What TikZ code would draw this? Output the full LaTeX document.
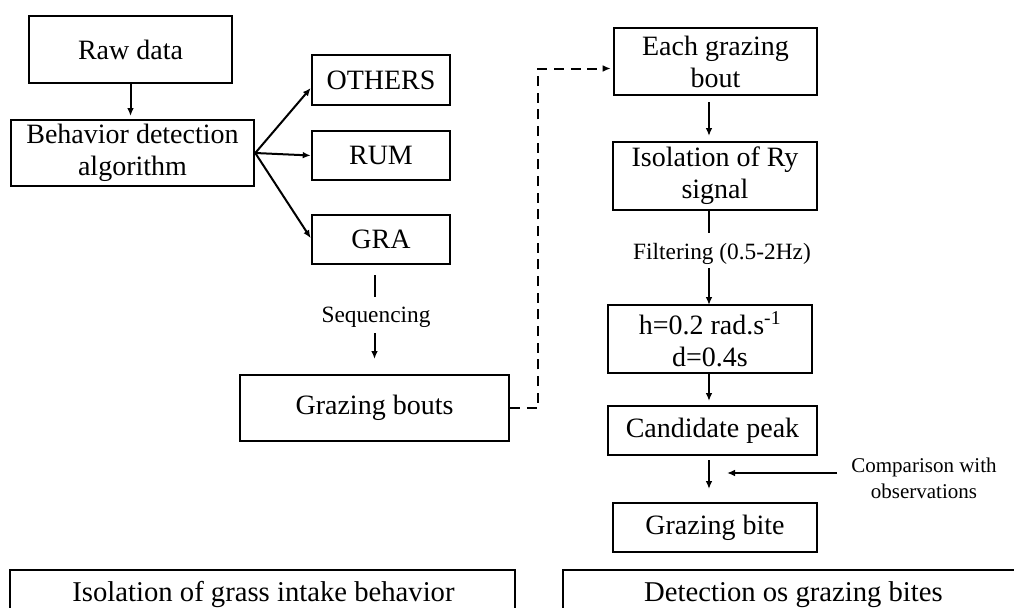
\documentclass[tikz,border=0pt]{standalone}
\usepackage{fontspec}
\setmainfont{Liberation Serif}
\usetikzlibrary{arrows.meta,calc}
\begin{document}
\begin{tikzpicture}[x=0.75pt,y=-0.75pt,
  box/.style={draw,line width=1.9pt,inner sep=0pt,align=center,font=\fontsize{21}{24}\selectfont},
  lbl/.style={inner sep=0pt,align=center,font=\fontsize{17.5}{20}\selectfont},
  arr/.style={line width=1.5pt,-{Latex[length=6pt,width=5pt]}},
  ln/.style={line width=1.5pt},
  dashline/.style={line width=1.5pt,dash pattern=on 7.5pt off 5pt,-{Latex[length=6pt,width=5pt]}}]
\useasboundingbox (0,0) rectangle (1014,607);
% left column
\node[box,minimum width=152.25pt,minimum height=50.25pt] (raw) at (130.5,49.5) {Raw data};
\node[box,minimum width=182.25pt,minimum height=49.5pt] (bda) at (132.5,153) {Behavior detection\\algorithm};
\node[box,minimum width=103.5pt,minimum height=37.5pt] (others) at (381,80) {OTHERS};
\node[box,minimum width=103.5pt,minimum height=37pt] (rum) at (381,155.5) {RUM};
\node[box,minimum width=103.5pt,minimum height=37pt] (gra) at (381,239.5) {GRA};
\node[lbl] (seq) at (376,317) {Sequencing};
\node[box,minimum width=201.75pt,minimum height=49.5pt] (gb) at (374.5,408) {Grazing bouts};
% right column
\node[box,minimum width=152.25pt,minimum height=50.25pt] (egb) at (715.5,61.5) {Each grazing\\bout};
\node[box,minimum width=153pt,minimum height=51pt] (iso) at (715,176) {Isolation of Ry\\signal};
\node[lbl] (filt) at (722,254) {Filtering (0.5-2Hz)};
\node[box,minimum width=153pt,minimum height=51pt] (hb) at (710,339) {h=0.2 rad.s\textsuperscript{-1}\\d=0.4s};
\node[box,minimum width=156.75pt,minimum height=36.75pt] (cand) at (712.5,430.5) {Candidate peak};
\node[box,minimum width=153pt,minimum height=36.75pt] (bite) at (715,527.5) {Grazing bite};
\node[inner sep=0pt,align=center,font=\fontsize{15.75}{19.5}\selectfont] (comp) at (924,478) {Comparison with\\observations};
% bottom boxes
\draw[line width=1.9pt] (10,650) -- (10,570) -- (515,570) -- (515,650);
\draw[line width=1.9pt] (563,650) -- (563,570) -- (1030,570);
\node[inner sep=0pt,anchor=base,font=\fontsize{21.5}{24}\selectfont] (t1) at (263.5,601) {Isolation of grass intake behavior};
\node[inner sep=0pt,anchor=base,font=\fontsize{21.5}{24}\selectfont] (t2) at (793.5,601) {Detection os grazing bites};
% connectors
\draw[arr] (raw.south) -- ([yshift=2pt]raw.south |- bda.north);
\draw[arr] (bda.east) -- ([yshift=-6pt]others.west);
\draw[arr] (bda.east) -- (rum.west);
\draw[arr] (bda.east) -- ([yshift=1pt]gra.west);
\draw[ln] (gb.north |- 0,275) -- (gb.north |- 0,297);
\draw[arr] (gb.north |- 0,333) -- (gb.north |- 0,359);
\draw[dashline] (gb.east) -- ++(28,0) |- ([xshift=-1.5pt,yshift=-5.25pt]egb.west);
\coordinate (c1) at (709,102);
\coordinate (c2) at (709,136);
\draw[arr] (c1) -- (c2);
\draw[ln] (709,210) -- (709,233);
\draw[arr] (709,268) -- (709,305);
\draw[arr] (709,373) -- (709,401);
\draw[arr] (709,460) -- (709,489);
\coordinate (cs) at (837,473);
\coordinate (ce) at (727,473);
\draw[arr] (cs) -- (ce);
\end{tikzpicture}
\end{document}
